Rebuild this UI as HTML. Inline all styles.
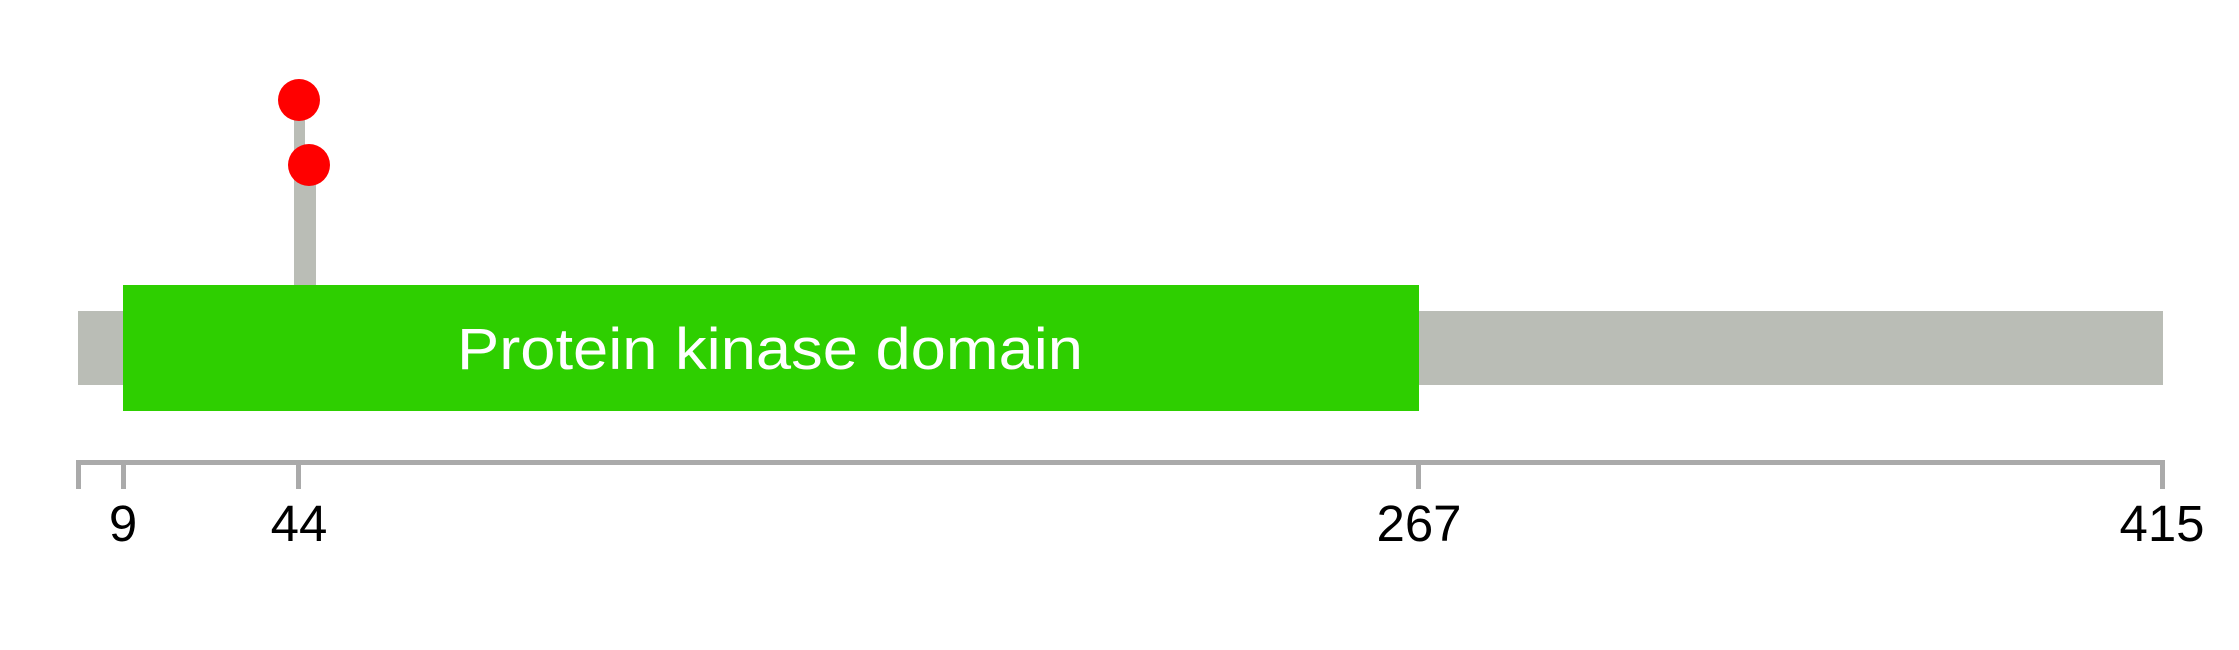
<!DOCTYPE html>
<html><head><style>html,body{margin:0;padding:0;background:#fff;}</style></head>
<body>
<svg width="2239" height="645" xmlns="http://www.w3.org/2000/svg" font-family="Liberation Sans, Arial, sans-serif">
<rect x="0" y="0" width="2239" height="645" fill="#fff"/>
<rect x="294" y="100" width="11" height="190" fill="#babdb6"/>
<rect x="305" y="165" width="11" height="125" fill="#babdb6"/>
<rect x="78" y="311" width="2085" height="74" fill="#babdb6"/>
<rect x="123" y="285" width="1296" height="126" fill="#2ecf00"/>
<text x="457" y="369" font-size="58" fill="#fff" textLength="626" lengthAdjust="spacingAndGlyphs">Protein kinase domain</text>
<circle cx="299" cy="100" r="21" fill="#ff0000"/>
<circle cx="309" cy="165" r="21" fill="#ff0000"/>
<rect x="78" y="460" width="2085" height="5" fill="#aaaaaa"/>
<g fill="#aaaaaa">
<rect x="76" y="460" width="5" height="29"/>
<rect x="121" y="460" width="5" height="29"/>
<rect x="296" y="460" width="5" height="29"/>
<rect x="1416" y="460" width="5" height="29"/>
<rect x="2160" y="460" width="5" height="29"/>
</g>
<g font-size="51" fill="#000" text-anchor="middle">
<text x="123" y="541">9</text>
<text x="299" y="541">44</text>
<text x="1419" y="541">267</text>
<text x="2162" y="541">415</text>
</g>
</svg>
</body></html>
